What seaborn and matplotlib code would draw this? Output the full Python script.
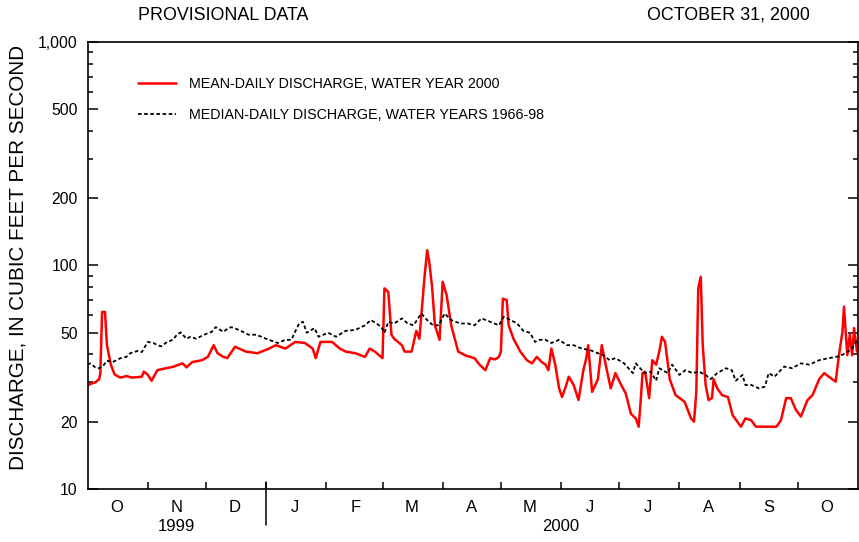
import matplotlib
matplotlib.use("Agg")
import matplotlib.pyplot as plt
import matplotlib.dates as mdates
import matplotlib.ticker as mticker
import matplotlib.transforms as mtrans
import numpy as np
import pandas as pd
import seaborn as sns

# ---------------- data ----------------
start_date = "1999-10-01"

# days after Oct 1, 1999 and mean-daily discharge, water year 2000 (cfs)
mean_day = [0, 1.4, 4, 6, 6.6, 7.5, 9, 10, 12, 14, 17, 20, 23, 28, 29, 31, 33, 36, 39,
            44, 49, 51, 54, 59, 62, 65, 67, 70, 72, 76, 81.6, 87.6, 93.6, 97, 102, 107,
            112, 116, 117.6, 120, 126, 130, 133, 138, 143, 145.4, 148, 152, 153, 155,
            156.6, 158, 162, 163.4, 167, 169.4, 171, 173.6, 175, 176, 177.5, 179, 181.4,
            183, 185, 187.4, 191, 195, 199.4, 202, 205, 207.5, 210, 212, 213, 214, 216,
            217, 219.5, 223, 226.4, 229, 231.5, 234, 236, 237.5, 239, 241, 243, 244.5,
            246, 248, 250.5, 253, 255.5, 257, 258, 260, 263, 265, 267, 269.6, 272, 275,
            277.3, 280, 282.5, 284, 285, 286, 287.3, 289.4, 291, 293, 294.6, 296, 297.6,
            300, 303, 307.6, 311, 312.5, 313.7, 314.7, 316, 317, 318.5, 320, 321.8,
            322.6, 324.5, 327, 330, 332.4, 336.7, 339, 342, 344.4, 349.5, 355, 357.3,
            360, 362.4, 365, 367.6, 371, 373.6, 377, 379.6, 382, 385.5, 387.2, 389,
            389.8, 390.7, 391.5, 392.8, 394, 395, 396.5, 397]
mean_cfs = [29, 29.5, 30, 31, 33, 62, 62, 44, 36, 32.5, 31.5, 32, 31.5, 31.8, 33.5, 32.5,
            30.5, 34, 34.5, 35.2, 36.5, 35, 37, 37.7, 39, 44, 40.5, 39, 38.5, 43.3, 41.2,
            40.5, 42.5, 44, 42.5, 45.5, 45, 42.5, 38.5, 45.5, 45.5, 42.5, 41.2, 40.5, 39,
            42.5, 41.2, 38.5, 79, 76, 49, 47, 44, 41.2, 41.2, 51, 47, 87.7, 117, 105, 81,
            54, 46.5, 84.5, 74, 54, 41.2, 39.5, 38.5, 36, 34, 38.5, 38, 39, 41.2, 71, 70,
            54, 47, 41.2, 37.7, 36.5, 39, 37, 36, 34, 42.5, 36, 28.2, 25.8, 28, 31.8,
            29.2, 25, 34, 38.5, 44, 27.2, 31, 44, 36, 28.2, 33, 29.2, 26.8, 21.7, 20.7,
            19, 24.6, 33, 33.5, 25.5, 37.7, 36, 41.2, 48, 45.5, 31, 26.3, 24.6, 20.7,
            20, 27.2, 79, 89, 44, 29.2, 25, 25.5, 31, 28.2, 26.3, 25.8, 21.4, 19, 20.7,
            20.3, 19, 19, 19, 20.3, 25.5, 25.5, 22.6, 21.1, 25, 26.3, 31, 33, 31.8,
            30.2, 39.7, 50.5, 65.5, 50.5, 39.7, 49, 39.7, 52.5, 41.2, 45]

# days after Oct 1, 1999 and median-daily discharge, water years 1966-98 (cfs)
median_day = [0, 1.4, 4, 6, 8, 10, 13, 17, 20, 22, 26, 28, 31, 34, 36, 38, 41, 44, 46,
              48, 51, 53, 56, 59, 62, 64, 66, 70, 72, 74, 78, 83, 87, 92, 95, 98, 102,
              105, 109, 111, 113, 117, 119, 124, 128, 133, 138, 143, 146, 149, 151.4,
              153, 155, 158, 162, 165, 168, 172, 175, 178, 181, 184, 187.4, 192, 196,
              199.4, 203, 207.5, 212, 214.5, 218, 221.4, 224.6, 228, 230.6, 233, 236,
              239, 243, 247, 250.5, 254.6, 259, 263, 265.8, 269, 272, 276.5, 281, 282.5,
              287, 290.2, 293, 294.6, 299, 301.3, 305, 308, 312, 315, 318.5, 321, 324.5,
              329, 332, 334, 337.5, 339, 342, 346, 349, 351, 354, 359, 363, 367.6, 372,
              377, 382, 387, 390.7, 394, 396.5, 397]
median_cfs = [36, 36.5, 35, 34.7, 35.5, 37.5, 37, 38.5, 39, 40.5, 41.5, 41, 45.5, 45, 44,
              43.5, 45.5, 46.5, 49, 50.2, 47, 48, 47, 48.5, 49.8, 50.5, 53, 50.5, 52, 53,
              51.5, 49, 49, 47, 46, 45, 46.5, 46.5, 55, 56, 50, 52.5, 48, 50, 48, 51,
              51.5, 54, 57, 55, 53, 50, 56, 55, 58, 55, 54, 61, 57, 54, 54, 61, 57, 55,
              55, 54, 58, 56, 54, 59, 57, 55, 51, 50, 45.5, 46.5, 46.5, 45, 46.5, 44, 44,
              42.5, 41.8, 40.5, 39.7, 37.7, 38.5, 36.5, 33, 36.5, 33, 33.5, 30.5, 34.7,
              33, 36, 32.4, 34, 33, 33.5, 32.4, 31, 33, 34.7, 34, 30.5, 32.4, 29.2, 29.2,
              28.2, 28.7, 33, 31.8, 35.3, 34.7, 36.5, 36, 37.7, 38.5, 39.2, 40.5, 42.5,
              46.5, 47]

y_ticks = [10, 20, 50, 100, 200, 500, 1000]
y_tick_labels = ["10", "20", "50", "100", "200", "500", "1,000"]
month_letters = ["O", "N", "D", "J", "F", "M", "A", "M", "J", "J", "A", "S", "O"]
mean_label = "MEAN-DAILY DISCHARGE, WATER YEAR 2000"
median_label = "MEDIAN-DAILY DISCHARGE, WATER YEARS 1966-98"

# ---------------- build frames ----------------
t0 = pd.Timestamp(start_date)
df_mean = pd.DataFrame({"date": t0 + pd.to_timedelta(mean_day, unit="D"), "cfs": mean_cfs})
df_median = pd.DataFrame({"date": t0 + pd.to_timedelta(median_day, unit="D"), "cfs": median_cfs})

sns.set_style("white")
plt.rcParams["font.family"] = ["Liberation Sans", "DejaVu Sans"]
for key in ("text.color", "axes.labelcolor", "xtick.color", "ytick.color", "axes.edgecolor"):
    plt.rcParams[key] = "black"

fig = plt.figure(figsize=(8.59, 5.42), dpi=100)
ax = fig.add_axes([0.1019, 0.0978, 0.8969, 0.8247])

sns.lineplot(data=df_mean, x="date", y="cfs", ax=ax, color="#ff0000", lw=1.8,
             label=mean_label, estimator=None, sort=False)
sns.lineplot(data=df_median, x="date", y="cfs", ax=ax, color="black", lw=1.3,
             label=median_label, estimator=None, sort=False, dashes=False)
ax.lines[1].set_linestyle((0, (2.0, 1.4)))

# ---------------- y axis ----------------
ax.set_yscale("log")
ax.set_ylim(10, 1000)
ax.yaxis.set_major_locator(mticker.FixedLocator(y_ticks))
ax.yaxis.set_major_formatter(mticker.FixedFormatter(y_tick_labels))
minor = [m * 10 ** e for e in (1, 2) for m in range(2, 10) if m * 10 ** e not in y_ticks]
ax.yaxis.set_minor_locator(mticker.FixedLocator(minor))
ax.yaxis.set_minor_formatter(mticker.NullFormatter())
ax.tick_params(axis="y", which="major", direction="in", length=7.5, width=1.1,
               left=True, right=True, labelsize=11.3, pad=7, colors="black")
ax.tick_params(axis="y", which="minor", direction="in", length=3.8, width=1.1,
               left=True, right=True)
ax.set_ylabel("")

# ---------------- x axis ----------------
x_start = pd.Timestamp("1999-10-01")
x_end = pd.Timestamp("2000-11-01")
ax.set_xlim(x_start, x_end)
month_starts = pd.date_range("1999-11-01", "2000-10-01", freq="MS")
ax.xaxis.set_major_locator(mticker.FixedLocator(mdates.date2num(month_starts)))
ax.xaxis.set_major_formatter(mticker.NullFormatter())
mids = pd.date_range("1999-10-01", "2000-10-01", freq="MS") + pd.Timedelta(days=15)
ax.xaxis.set_minor_locator(mticker.FixedLocator(mdates.date2num(mids)))
ax.xaxis.set_minor_formatter(mticker.FixedFormatter(month_letters))
ax.tick_params(axis="x", which="major", direction="in", length=5, width=1.1,
               bottom=True, top=False)
ax.tick_params(axis="x", which="minor", length=0, labelsize=12, pad=8)
ax.set_xlabel("")

for s in ax.spines.values():
    s.set_linewidth(1.2)
    s.set_color("black")
    s.set_visible(True)

# year divider and year labels
trans = mtrans.blended_transform_factory(ax.transData, ax.transAxes)
jan1 = mdates.date2num(pd.Timestamp("2000-01-01"))
ax.plot([jan1, jan1], [0.016, -0.081], transform=trans, color="black", lw=1.1, clip_on=False)
ax.text(mdates.date2num(pd.Timestamp("1999-11-16")), -0.085, "1999", transform=trans,
        ha="center", va="center", fontsize=12)
ax.text(mdates.date2num(pd.Timestamp("2000-06-01")), -0.085, "2000", transform=trans,
        ha="center", va="center", fontsize=12)

# ---------------- legend & titles ----------------
leg = ax.legend(loc="upper left", bbox_to_anchor=(0.0655, 0.9226), frameon=False,
                fontsize=10.3, handlelength=2.66, handletextpad=0.9, labelspacing=1.21,
                borderaxespad=0, borderpad=0)

fig.text(138 / 859, 1 - 15 / 542, "PROVISIONAL DATA", ha="left", va="center", fontsize=12.9)
fig.text(810 / 859, 1 - 15 / 542, "OCTOBER 31, 2000", ha="right", va="center", fontsize=12.9)
fig.text(18 / 859, 1 - 257 / 542, "DISCHARGE, IN CUBIC FEET PER SECOND", rotation=90,
         ha="center", va="center", fontsize=14.9)

fig.savefig("out.png", dpi=100)
